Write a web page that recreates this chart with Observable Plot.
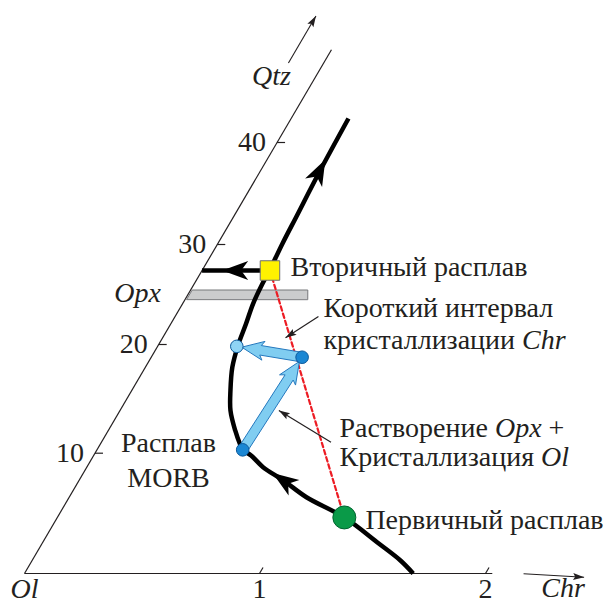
<!DOCTYPE html>
<html><head><meta charset="utf-8">
<script src="https://cdn.jsdelivr.net/npm/d3@7"></script>
<script src="https://cdn.jsdelivr.net/npm/@observablehq/plot@0.6"></script>
<style>html,body{margin:0;padding:0;background:#fff;}#chart{width:606px;height:603px;}</style>
</head><body><div id="chart"></div>
<script>
// ---------------- data (Chr along the base, Qtz along the oblique axis) ----------------
const chrTicks = [0, 1, 2];
const chrTickLabels = ["Ol", "1", "2"];
const qtzTicks = [10, 20, 30, 40];
const qtzTickLabels = ["10", "20", "30", "40"];
const qtzAxisTop = 49.1;
const chrAxisEnd = 2.03;

// melt evolution path (bottom -> top)
const pathChr = [1.68, 1.59, 1.45, 1.23, 1.01, 0.87, 0.75, 0.67, 0.62, 0.60, 0.54, 0.47, 0.42, 0.37, 0.34, 0.32, 0.30, 0.29, 0.287, 0.275, 0.267, 0.254, 0.244];
const pathQtz = [0, 1.08, 2.49, 4.66, 6.34, 7.73, 8.84, 9.81, 10.31, 10.71, 12.09, 13.93, 15.77, 17.91, 19.9, 22.07, 24.07, 26.07, 27.4, 30.1, 32.75, 36.96, 42.35];

// key melts
const primaryMelt = {chr: 1.23, qtz: 4.66};
const secondaryMelt = {chr: 0.289, qtz: 27.4};

// blue points: A (dark), B (dark), C (light)
const bluePointChr = [0.62, 0.642, 0.337];
const bluePointQtz = [10.31, 18.83, 19.83];
const bluePointKind = ["dark", "dark", "light"];
const blueArrowFrom = [0, 1];
const blueArrowTo = [1, 2];

// Opx band
const opxBandQtz = [24.47, 25.4];
const opxBandChrLeft = [0.01, 0.01];
const opxBandChrRight = [0.525, 0.502];

// arrowheads on the black path: tip and a point behind it
const headTipChr = [0.248, 0.805, 0.0855];
const headTipQtz = [38.33, 8.35, 27.4];
const headFromChr = [0.267, 0.87, 0.287];
const headFromQtz = [32.75, 7.73, 27.4];

// leader lines (label -> feature)
const leaderFromChr = [0.610, 0.977];
const leaderFromQtz = [22.8, 11.01];
const leaderToChr = [0.523, 0.676];
const leaderToQtz = [20.67, 13.93];

// axis-name arrows
const nameArrowFromChr = [-0.15, 2.169];
const nameArrowFromQtz = [47.8, -0.02];
const nameArrowToChr = [-0.15, 2.446];
const nameArrowToQtz = [52.4, -0.31];

// texts
const noteLines = [
  {chr: 0.369, qtz: 27.7, parts: [["Вторичный расплав", 0]]},
  {chr: 0.611, qtz: 23.6, parts: [["Короткий интервал", 0]]},
  {chr: 0.691, qtz: 20.4, parts: [["кристаллизации ", 0], ["Chr", 1]]},
  {chr: 0.976, qtz: 12.36, parts: [["Растворение ", 0], ["Opx", 1], [" +", 0]]},
  {chr: 1.052, qtz: 9.68, parts: [["Кристаллизация ", 0], ["Ol", 1]]},
  {chr: 1.331, qtz: 4.41, parts: [["Первичный расплав", 0]]}
];
const centerLabels = [
  {text: "Расплав", chr: 0.286, qtz: 10.98, italic: 0},
  {text: "MORB", chr: 0.376, qtz: 7.9, italic: 0},
  {text: "Opx", chr: -0.217, qtz: 25.1, italic: 1},
  {text: "Qtz", chr: -0.188, qtz: 46.47, italic: 1},
  {text: "Chr", chr: 2.381, qtz: -1.22, italic: 1}
];

// ---------------- scales & geometry helpers ----------------
const xDomain = [0, 1, 2], xRange = [24, 259, 485];
const yDomain = [0, 10, 20, 30, 40], yRange = [573, 452.7, 344, 244, 142];
const sx = d3.scaleLinear().domain(xDomain).range(xRange);
const sy = d3.scaleLinear().domain(yDomain).range(yRange);
const SLANT = 0.586; // horizontal px per vertical px of the Qtz axis
function pix(c, q) { const y = sy(q); return [sx(c) + SLANT * (sy(0) - y), y]; }
function X(c, q) { return sx.invert(pix(c, q)[0]); }
function angleOf(c0, q0, c1, q1) { const a = pix(c0, q0), b = pix(c1, q1); return Math.atan2(b[1] - a[1], b[0] - a[0]); }
function polySymbol(pts, angle) {
  const c = Math.cos(angle), s = Math.sin(angle);
  return {draw(ctx) {
    pts.forEach(([x, y], i) => { const px = x * c - y * s, py = x * s + y * c; i ? ctx.lineTo(px, py) : ctx.moveTo(px, py); });
    ctx.closePath();
  }};
}
function headPts(len, w, notch) { return [[0, 0], [-len, w / 2], [-len + notch, 0], [-len, -w / 2]]; }
function blueArrowPts(L, s, len, w, notch) {
  const xs = L - len + notch - notch * (s / (w / 2));
  return [[0, s], [xs, s], [L - len, w / 2], [L, 0], [L - len, -w / 2], [xs, -s], [0, -s]];
}

const INK = "#231f20";
const FS = 28;
const FONT = "Liberation Serif";
const mctx = document.createElement("canvas").getContext("2d");
function tw(str, italic) { mctx.font = `${italic ? "italic " : ""}${FS}px "${FONT}"`; return mctx.measureText(str).width; }

// ---------------- marks ----------------
const pathData = pathChr.map((c, i) => ({chr: c, qtz: pathQtz[i]}));
const bluePts = bluePointChr.map((c, i) => ({chr: c, qtz: bluePointQtz[i], kind: bluePointKind[i]}));
const opxBand = opxBandQtz.map((q, i) => ({qtz: q, l: opxBandChrLeft[i], r: opxBandChrRight[i]}));

const marks = [];
// axes
marks.push(Plot.link([0], {x1: () => X(0, 0), y1: () => 0, x2: () => X(0, qtzAxisTop), y2: () => qtzAxisTop, stroke: INK, strokeWidth: 1.2}));
marks.push(Plot.link([0], {x1: () => X(0, 0), y1: () => 0, x2: () => X(chrAxisEnd, 0), y2: () => 0, stroke: INK, strokeWidth: 1.2}));
// qtz ticks
marks.push(Plot.link(qtzTicks, {x1: q => X(0, q), y1: q => q, x2: q => X(0.034, q), y2: q => q, stroke: INK, strokeWidth: 1.2}));
marks.push(Plot.text(qtzTicks, {x: q => X(0, q), y: q => q, text: (q, i) => qtzTickLabels[i], dx: -11, textAnchor: "end", fontFamily: FONT, fontSize: FS, fill: INK}));
// chr ticks
marks.push(Plot.link(chrTicks.slice(1), {x1: c => X(c, 0), y1: () => 0, x2: c => X(c, 0.5), y2: () => 0.5, stroke: INK, strokeWidth: 1.2}));
chrTicks.forEach((c, i) => {
  marks.push(Plot.text([c], {x: c => X(c, 0), y: () => 0, text: () => chrTickLabels[i], dy: 16, fontFamily: FONT, fontSize: FS, fill: INK, fontStyle: i === 0 ? "italic" : "normal"}));
});
// axis name arrows
nameArrowFromChr.forEach((c0, i) => {
  const q0 = nameArrowFromQtz[i], c1 = nameArrowToChr[i], q1 = nameArrowToQtz[i];
  marks.push(Plot.link([0], {x1: () => X(c0, q0), y1: () => q0, x2: () => X(c1, q1), y2: () => q1, stroke: INK, strokeWidth: 1.1}));
  marks.push(Plot.dot([0], {x: () => X(c1, q1), y: () => q1, r: 1, symbol: polySymbol(headPts(11, 7, 2), angleOf(c0, q0, c1, q1)), fill: INK, stroke: "none"}));
});
// Opx band
marks.push(Plot.areaX(opxBand, {y: "qtz", x1: d => X(d.l, d.qtz), x2: d => X(d.r, d.qtz), fill: "#cbcccd", stroke: "#77787b", strokeWidth: 1}));
// red tie line
marks.push(Plot.line([secondaryMelt, primaryMelt], {x: d => X(d.chr, d.qtz), y: "qtz", stroke: "#ed1c24", strokeWidth: 2.2, strokeDasharray: "4.5,3"}));
// black path
marks.push(Plot.line(pathData, {x: d => X(d.chr, d.qtz), y: "qtz", curve: "catmull-rom", stroke: "#000", strokeWidth: 4.5, strokeLinecap: "butt"}));
// horizontal arrow shaft to Opx
marks.push(Plot.link([secondaryMelt], {x1: d => X(d.chr, d.qtz), y1: "qtz", x2: d => X(0, d.qtz), y2: "qtz", stroke: "#000", strokeWidth: 4.5}));
// black arrowheads
headTipChr.forEach((c, i) => {
  const q = headTipQtz[i];
  marks.push(Plot.dot([0], {x: () => X(c, q), y: () => q, r: 1, symbol: polySymbol(headPts(26, 19, 7), angleOf(headFromChr[i], headFromQtz[i], c, q)), fill: "#000", stroke: "none"}));
});
// blue arrows
blueArrowFrom.forEach((fi, k) => {
  const a = bluePts[fi], b = bluePts[blueArrowTo[k]];
  const pa = pix(a.chr, a.qtz), pb = pix(b.chr, b.qtz);
  const L = Math.hypot(pb[0] - pa[0], pb[1] - pa[1]) - 5;
  marks.push(Plot.dot([a], {x: d => X(d.chr, d.qtz), y: "qtz", r: 1, symbol: polySymbol(blueArrowPts(L, 4.8, 22, 19, 6), angleOf(a.chr, a.qtz, b.chr, b.qtz)), fill: "#80cdf1", stroke: "#2478be", strokeWidth: 1}));
});
// blue points
marks.push(Plot.dot(bluePts, {x: d => X(d.chr, d.qtz), y: "qtz", r: 6.3, fill: d => d.kind === "dark" ? "#1b87d3" : "#8fd4f5", stroke: "#0d5a9c", strokeWidth: 1}));
// secondary melt (yellow square) & primary melt (green circle)
marks.push(Plot.dot([secondaryMelt], {x: d => X(d.chr, d.qtz), y: "qtz", symbol: "square", r: 11, fill: "#fff200", stroke: "#6d6e71", strokeWidth: 1}));
marks.push(Plot.dot([primaryMelt], {x: d => X(d.chr, d.qtz), y: "qtz", r: 11.5, fill: "#0a9a48", stroke: "#00632f", strokeWidth: 1}));
// leader lines
leaderFromChr.forEach((c0, i) => {
  const q0 = leaderFromQtz[i], c1 = leaderToChr[i], q1 = leaderToQtz[i];
  marks.push(Plot.link([0], {x1: () => X(c0, q0), y1: () => q0, x2: () => X(c1, q1), y2: () => q1, stroke: INK, strokeWidth: 1.2}));
  marks.push(Plot.dot([0], {x: () => X(c1, q1), y: () => q1, r: 1, symbol: polySymbol(headPts(11, 7, 2), angleOf(c0, q0, c1, q1)), fill: INK, stroke: "none"}));
});
// note texts (mixed roman/italic)
noteLines.forEach(line => {
  let off = 0;
  line.parts.forEach(([str, it]) => {
    const s = str.trim();
    const lead = str.length - str.trimStart().length ? tw(" ", it) : 0;
    marks.push(Plot.text([line], {x: d => X(d.chr, d.qtz), y: "qtz", text: () => s, dx: off + lead, textAnchor: "start", fontFamily: FONT, fontSize: FS, fontStyle: it ? "italic" : "normal", fill: INK}));
    off += tw(str, it);
  });
});
centerLabels.forEach(l => {
  marks.push(Plot.text([l], {x: d => X(d.chr, d.qtz), y: "qtz", text: "text", fontFamily: FONT, fontSize: FS, fontStyle: l.italic ? "italic" : "normal", fill: INK}));
});

const chart = Plot.plot({
  width: 606, height: 603, margin: 0,
  style: {background: "#fff", overflow: "visible"},
  x: {type: "linear", domain: xDomain, range: xRange, axis: null},
  y: {type: "linear", domain: yDomain, range: yRange, axis: null},
  marks
});
document.getElementById("chart").appendChild(chart);
</script>
</body></html>
